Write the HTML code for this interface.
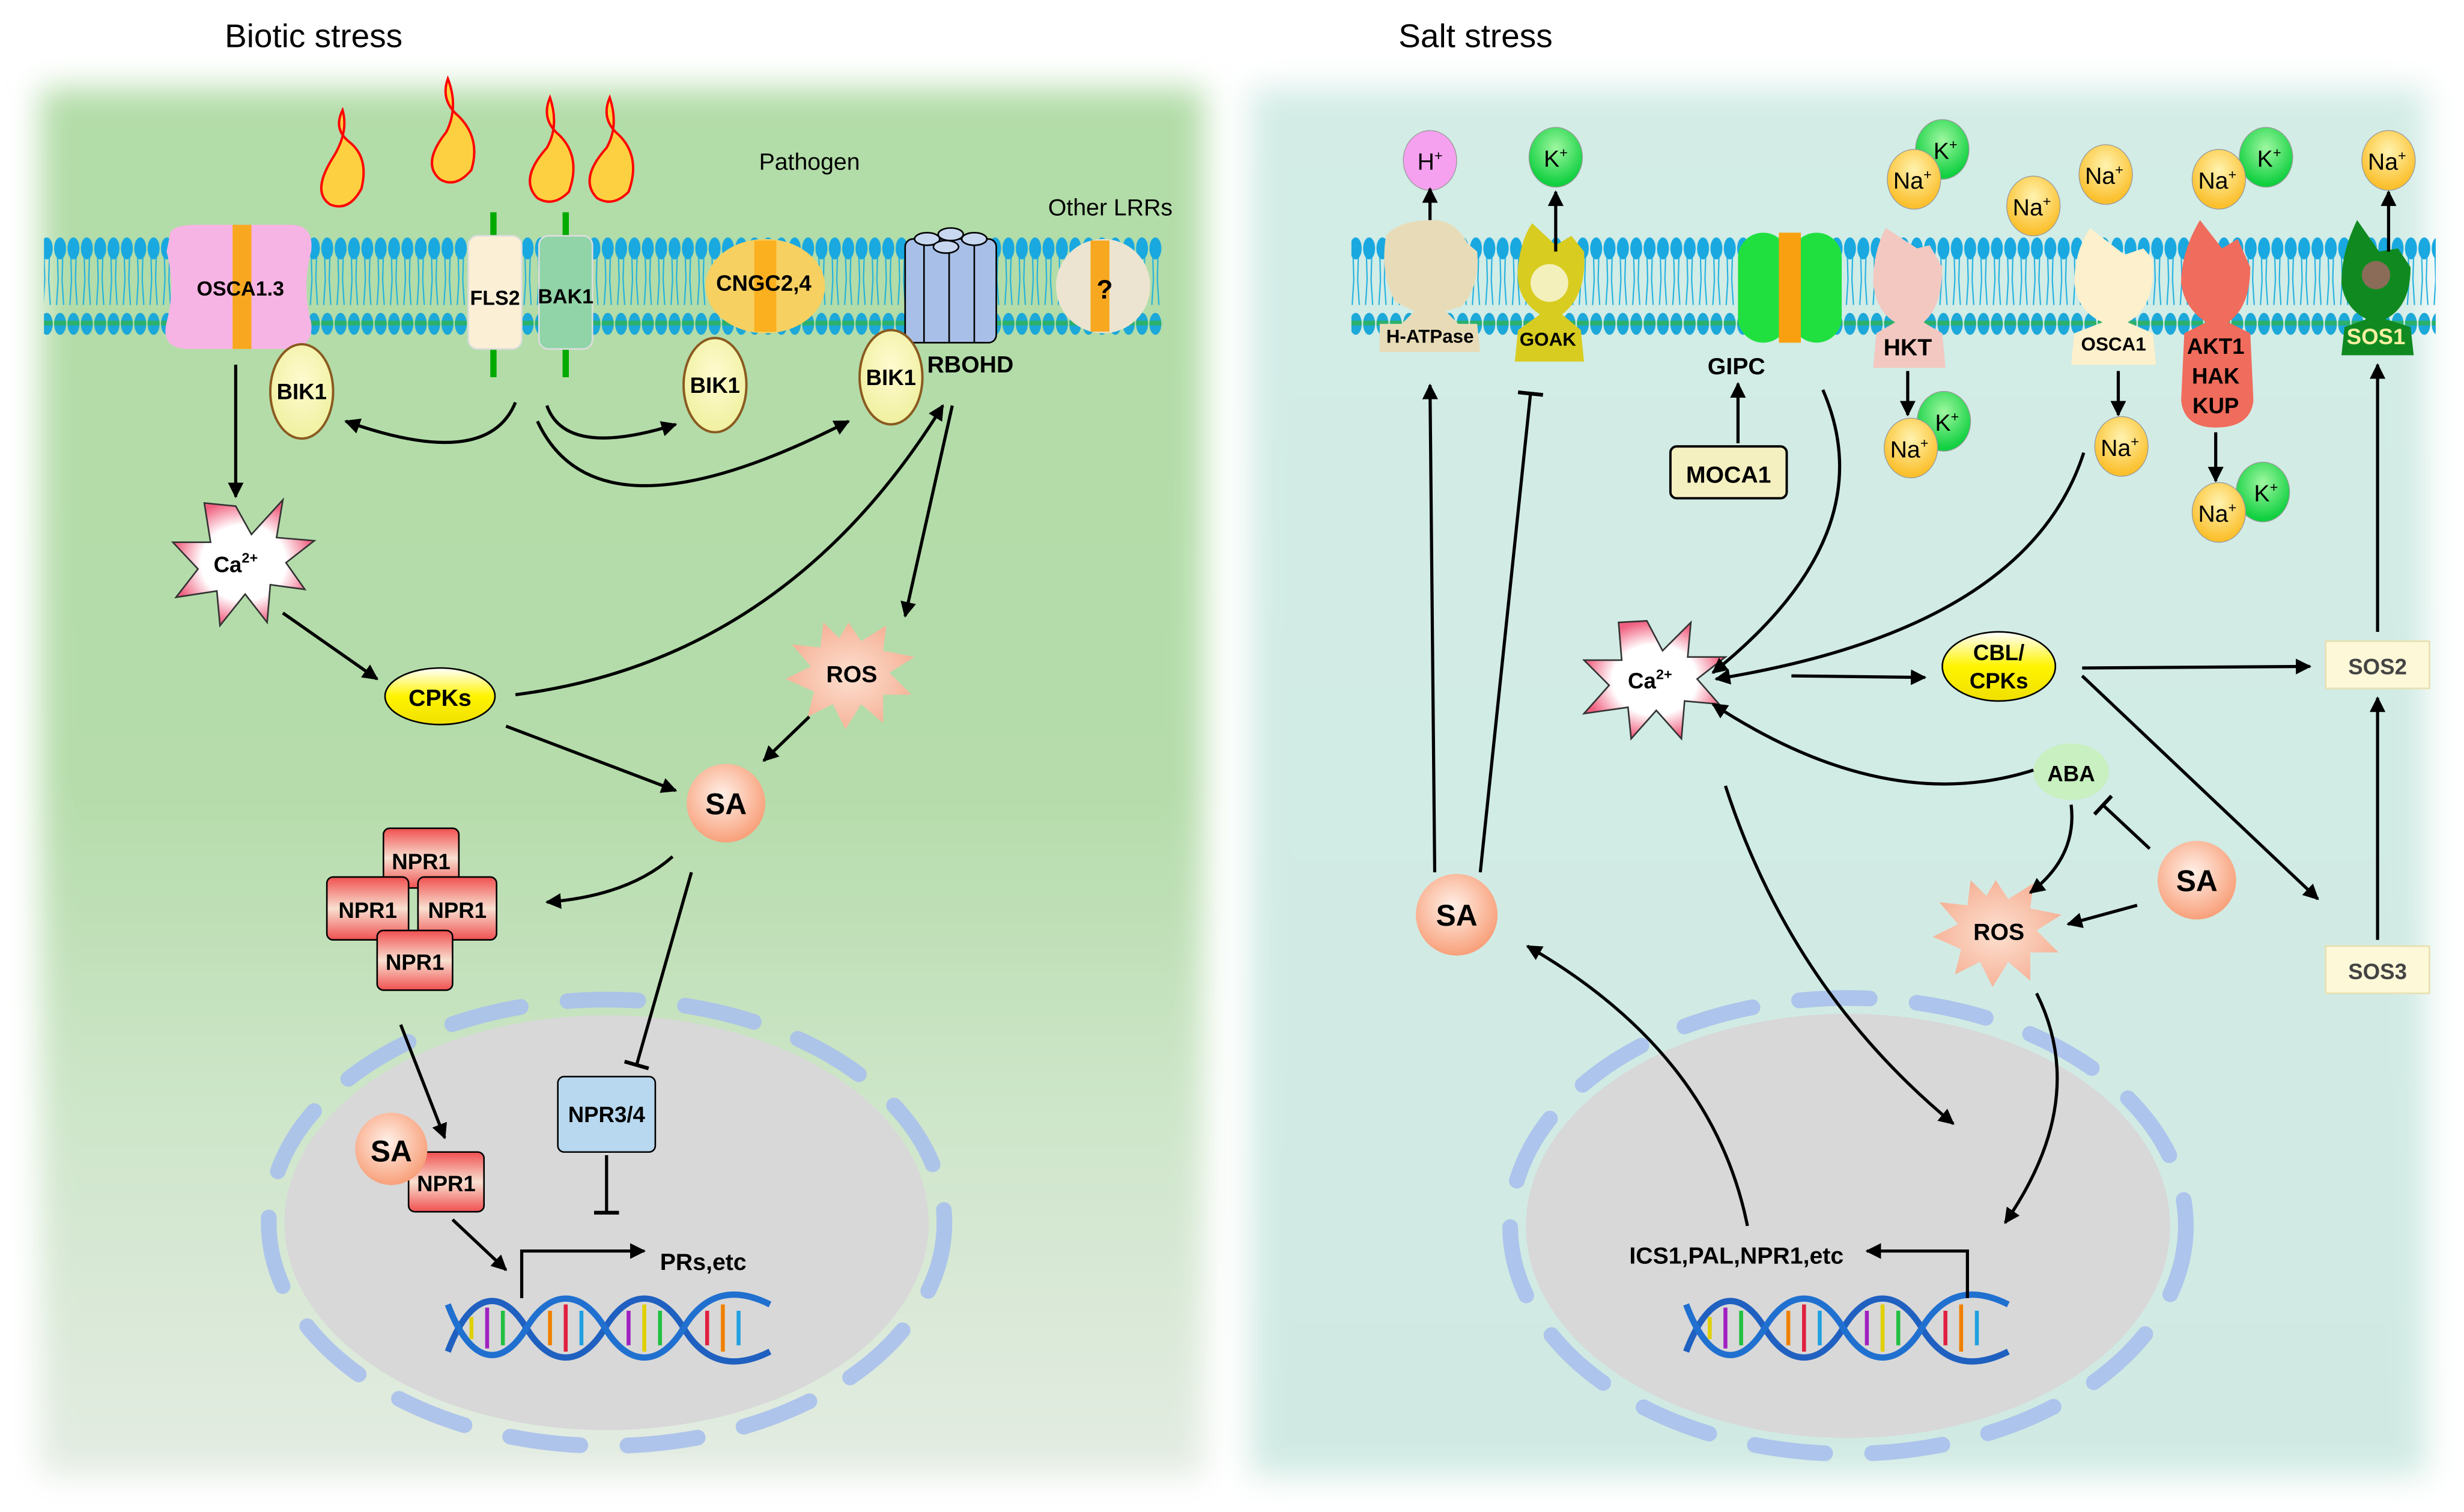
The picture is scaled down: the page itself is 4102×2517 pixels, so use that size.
<!DOCTYPE html>
<html><head><meta charset="utf-8"><style>html,body{margin:0;padding:0;background:#fff}svg{display:block}text{font-family:"Liberation Sans",Arial,sans-serif}</style></head>
<body>
<svg width="4102" height="2517" viewBox="0 0 1568 962" xmlns="http://www.w3.org/2000/svg">
<defs>
<filter id="blur" x="-5%" y="-5%" width="110%" height="110%"><feGaussianBlur stdDeviation="10"/></filter>
<linearGradient id="lg" x1="0" y1="0" x2="0" y2="1"><stop offset="0" stop-color="#b2dca8"/><stop offset="0.5" stop-color="#b5dcaa"/><stop offset="0.75" stop-color="#cfe6cb"/><stop offset="1" stop-color="#e4ece3"/></linearGradient>
<linearGradient id="rg" x1="0" y1="0" x2="0" y2="1"><stop offset="0" stop-color="#d3ece6"/><stop offset="1" stop-color="#d0eae3"/></linearGradient>
<pattern id="lip" x="0" y="150" width="8.5" height="64" patternUnits="userSpaceOnUse">
<path d="M2.5 10 L3 28 L2 44 M6 10 L5.5 28 L6.5 44" stroke="#1fb0e0" stroke-width="0.8" fill="none"/>
<ellipse cx="4.25" cy="8" rx="3.8" ry="7" fill="#19a8e0"/><ellipse cx="4.25" cy="56" rx="3.8" ry="7" fill="#1ca8d8"/><rect x="0.5" y="54" width="7.5" height="3" fill="#2cb06a"/>
</pattern>
<radialGradient id="ca" cx="0.5" cy="0.5" r="0.5"><stop offset="0" stop-color="#fff"/><stop offset="0.6" stop-color="#fff"/><stop offset="1" stop-color="#f06080"/></radialGradient>
<radialGradient id="ros" cx="0.5" cy="0.5" r="0.5"><stop offset="0" stop-color="#fde0d0"/><stop offset="1" stop-color="#f6b49a"/></radialGradient>
<radialGradient id="sa" cx="0.45" cy="0.4" r="0.6"><stop offset="0" stop-color="#fff0e8"/><stop offset="1" stop-color="#f8a07a"/></radialGradient>
<radialGradient id="na" cx="0.5" cy="0.35" r="0.6"><stop offset="0" stop-color="#fff3b0"/><stop offset="1" stop-color="#fbc02d"/></radialGradient>
<radialGradient id="kk" cx="0.5" cy="0.35" r="0.6"><stop offset="0" stop-color="#9ff7a0"/><stop offset="1" stop-color="#10d040"/></radialGradient>
<radialGradient id="bik" cx="0.5" cy="0.4" r="0.6"><stop offset="0" stop-color="#fffbd0"/><stop offset="1" stop-color="#f0f0a0"/></radialGradient>
<linearGradient id="npr" x1="0" y1="0" x2="0" y2="1"><stop offset="0" stop-color="#f05050"/><stop offset="0.5" stop-color="#f8e0d0"/><stop offset="1" stop-color="#f05050"/></linearGradient>
<linearGradient id="cpk" x1="0" y1="0" x2="0" y2="1"><stop offset="0" stop-color="#fff"/><stop offset="0.5" stop-color="#fff400"/><stop offset="1" stop-color="#f0e000"/></linearGradient>
<marker id="a" viewBox="0 0 10 10" refX="9" refY="5" markerWidth="5" markerHeight="5" orient="auto"><path d="M0 0 L10 5 L0 10 z" fill="#000"/></marker>
<marker id="t" viewBox="0 0 10 20" refX="5" refY="10" markerWidth="4" markerHeight="8" orient="auto"><rect x="3" y="0" width="3" height="20" fill="#000"/></marker>
</defs>

<rect width="1568" height="962" fill="#fff"/>
<rect x="26" y="56" width="740" height="883" fill="url(#lg)" filter="url(#blur)"/>
<rect x="796" y="56" width="748" height="883" fill="url(#rg)" filter="url(#blur)"/>

<text x="143" y="30" font-size="21">Biotic stress</text>
<text x="890" y="30" font-size="21">Salt stress</text>

<rect x="28" y="150" width="712" height="64" fill="url(#lip)"/>
<rect x="860" y="150" width="690" height="64" fill="url(#lip)"/>

<ellipse cx="386" cy="778" rx="205" ry="132" fill="#d8d8d8"/>
<ellipse cx="386" cy="778" rx="215" ry="142" fill="none" stroke="#a8c0ec" stroke-width="10" stroke-dasharray="45 30" stroke-linecap="round" opacity="0.9"/>
<ellipse cx="1176" cy="780" rx="205" ry="135" fill="#d8d8d8"/>
<ellipse cx="1176" cy="780" rx="215" ry="145" fill="none" stroke="#a8c0ec" stroke-width="10" stroke-dasharray="45 30" stroke-linecap="round" opacity="0.9"/>

<g fill="#fcd040" stroke="#f00" stroke-width="1.5">
<path d="M218 70 Q212 82 222 90 Q235 100 230 120 Q222 135 210 130 Q198 122 212 100 Q222 84 218 70z"/>
<path d="M285 50 Q280 64 292 74 Q306 88 300 108 Q290 120 280 114 Q268 104 284 84 Q292 68 285 50z"/>
<path d="M350 62 Q344 76 356 86 Q370 100 362 122 Q352 132 342 126 Q330 114 348 94 Q356 80 350 62z"/>
<path d="M388 62 Q382 76 394 86 Q408 100 400 122 Q390 132 380 126 Q368 114 386 94 Q394 80 388 62z"/>
</g>
<text x="483" y="108" font-size="15">Pathogen</text>
<text x="667" y="137" font-size="15">Other LRRs</text>

<path d="M108 150 Q108 143 125 143 L185 143 Q200 143 198 160 Q192 183 198 205 Q200 222 182 222 L120 222 Q102 222 106 205 Q112 183 106 160z" fill="#f6b4e4"/>
<rect x="148" y="143" width="12" height="79" fill="#f8a820"/>
<text x="153" y="188" font-size="13" font-weight="bold" text-anchor="middle">OSCA1.3</text>
<line x1="314" y1="135" x2="314" y2="240" stroke="#0a0" stroke-width="4"/>
<line x1="360" y1="135" x2="360" y2="240" stroke="#0a0" stroke-width="4"/>
<rect x="298" y="150" width="34" height="72" rx="6" fill="#fbefd6" stroke="#ddd"/>
<rect x="343" y="150" width="34" height="72" rx="6" fill="#90d4a8" stroke="#ddd"/>
<text x="315" y="194" font-size="13" font-weight="bold" text-anchor="middle">FLS2</text>
<text x="360" y="193" font-size="13" font-weight="bold" text-anchor="middle">BAK1</text>
<ellipse cx="487" cy="182" rx="38" ry="30" fill="#f6d060"/>
<rect x="480" y="153" width="14" height="58" fill="#fbb020"/>
<text x="486" y="185" font-size="14" font-weight="bold" text-anchor="middle">CNGC2,4</text>
<g fill="#a8c0e8" stroke="#000" stroke-width="1">
<rect x="576" y="152" width="58" height="66" rx="5"/>
<line x1="588" y1="152" x2="588" y2="218"/><line x1="604" y1="152" x2="604" y2="218"/><line x1="620" y1="152" x2="620" y2="218"/>
<ellipse cx="590" cy="152" rx="8" ry="4" fill="#c8d8f0"/><ellipse cx="605" cy="149" rx="8" ry="4" fill="#c8d8f0"/><ellipse cx="620" cy="152" rx="8" ry="4" fill="#c8d8f0"/><ellipse cx="602" cy="157" rx="8" ry="4" fill="#c8d8f0"/>
</g>
<text x="590" y="237" font-size="15" font-weight="bold">RBOHD</text>
<ellipse cx="702" cy="182" rx="30" ry="30" fill="#ece4d0"/>
<rect x="694" y="153" width="12" height="58" fill="#f8a820"/>
<text x="703" y="190" font-size="17" font-weight="bold" text-anchor="middle">?</text>
<g fill="url(#bik)" stroke="#8a5a20" stroke-width="1.5">
<ellipse cx="192" cy="249" rx="20" ry="30"/><ellipse cx="455" cy="245" rx="20" ry="30"/><ellipse cx="567" cy="240" rx="20" ry="30"/>
</g>
<g font-size="14" font-weight="bold" text-anchor="middle"><text x="192" y="254">BIK1</text><text x="455" y="250">BIK1</text><text x="567" y="245">BIK1</text></g>

<path d="M150 322 L160 340 L180 318 L176 342 L200 344 L182 358 L194 375 L172 372 L170 396 L156 378 L140 398 L138 376 L112 380 L126 362 L110 345 L134 345 L130 320z" fill="url(#ca)" stroke="#333" stroke-width="1"/>
<text x="150" y="364" font-size="14" font-weight="bold" text-anchor="middle">Ca<tspan font-size="9" dy="-6">2+</tspan></text>
<ellipse cx="280" cy="443" rx="35" ry="18" fill="url(#cpk)" stroke="#000"/>
<text x="280" y="449" font-size="15" font-weight="bold" text-anchor="middle">CPKs</text>
<path d="M540 396 L548 408 L564 398 L562 414 L582 418 L566 428 L580 442 L562 442 L562 460 L548 448 L538 464 L530 448 L514 456 L518 440 L500 432 L516 424 L504 410 L522 412 L524 396 L534 406z" fill="url(#ros)"/>
<text x="542" y="434" font-size="15" font-weight="bold" text-anchor="middle">ROS</text>
<circle cx="462" cy="511" r="25" fill="url(#sa)"/><text x="462" y="518" font-size="19" font-weight="bold" text-anchor="middle">SA</text>
<g fill="url(#npr)" stroke="#000" stroke-width="1">
<rect x="244" y="527" width="48" height="38" rx="4"/>
<rect x="208" y="558" width="52" height="40" rx="4"/>
<rect x="266" y="558" width="50" height="40" rx="4"/>
<rect x="240" y="592" width="48" height="38" rx="4"/>
<rect x="260" y="733" width="48" height="38" rx="4"/>
</g>
<g font-size="14" font-weight="bold" text-anchor="middle"><text x="268" y="553">NPR1</text><text x="234" y="584">NPR1</text><text x="291" y="584">NPR1</text><text x="264" y="617">NPR1</text><text x="284" y="758">NPR1</text></g>
<circle cx="249" cy="731" r="23" fill="url(#sa)"/><text x="249" y="739" font-size="19" font-weight="bold" text-anchor="middle">SA</text>
<rect x="355" y="685" width="62" height="48" rx="4" fill="#b8d8f0" stroke="#000"/>
<text x="386" y="714" font-size="14" font-weight="bold" text-anchor="middle">NPR3/4</text>
<text x="420" y="808" font-size="15" font-weight="bold">PRs,etc</text>
<polyline points="332,826 332,796 410,796" fill="none" stroke="#000" stroke-width="2" marker-end="url(#a)"/>

<g id="dna" fill="none" stroke-width="4">
<path d="M285 860 C300 820 320 820 335 845 C350 870 370 870 385 845 C400 820 420 820 435 845 C450 870 470 870 490 860" stroke="#1f60c0"/>
<path d="M285 830 C300 870 320 870 335 845 C350 820 370 820 385 845 C400 870 420 870 435 845 C450 820 470 820 490 830" stroke="#2070d0"/>
<g stroke-width="2.5"><line x1="300" y1="838" x2="300" y2="852" stroke="#e0d000"/><line x1="310" y1="832" x2="310" y2="858" stroke="#a020c0"/><line x1="320" y1="834" x2="320" y2="856" stroke="#20c040"/><line x1="350" y1="834" x2="350" y2="856" stroke="#f08000"/><line x1="360" y1="830" x2="360" y2="860" stroke="#e02040"/><line x1="370" y1="834" x2="370" y2="856" stroke="#20a0e0"/><line x1="400" y1="834" x2="400" y2="856" stroke="#a020c0"/><line x1="410" y1="830" x2="410" y2="860" stroke="#e0d000"/><line x1="420" y1="834" x2="420" y2="856" stroke="#20c040"/><line x1="450" y1="834" x2="450" y2="856" stroke="#e02040"/><line x1="460" y1="830" x2="460" y2="860" stroke="#f08000"/><line x1="470" y1="834" x2="470" y2="856" stroke="#20a0e0"/></g>
</g>
<use href="#dna" x="788" y="0"/>

<g fill="none" stroke="#000" stroke-width="2" marker-end="url(#a)">
<line x1="150" y1="232" x2="150" y2="316"/>
<path d="M328 256 Q310 300 220 268"/>
<path d="M348 258 Q360 292 430 270"/>
<path d="M342 268 Q380 350 540 268"/>
<path d="M328 442 Q500 420 600 258"/>
<path d="M606 258 Q590 330 576 392"/>
<line x1="180" y1="390" x2="240" y2="432"/>
<line x1="322" y1="462" x2="430" y2="503"/>
<line x1="515" y1="456" x2="486" y2="484"/>
<path d="M428 545 Q400 570 348 574"/>
<line x1="255" y1="652" x2="283" y2="724"/>
<line x1="288" y1="776" x2="322" y2="808"/>
</g>
<g fill="none" stroke="#000" stroke-width="2" marker-end="url(#t)">
<line x1="440" y1="555" x2="405" y2="678"/>
<line x1="386" y1="735" x2="386" y2="772"/>
</g>

<path d="M882 150 Q890 140 912 140 Q926 140 934 155 L940 160 Q942 182 930 195 L920 198 L928 206 L940 206 L942 224 L878 224 L878 206 L892 206 L900 198 L888 192 Q878 175 882 150z" fill="#e8dcb8"/>
<text x="910" y="218" font-size="12" font-weight="bold" text-anchor="middle">H-ATPase</text>
<path d="M975 142 Q968 152 966 170 Q964 190 980 200 L966 210 L964 230 L1008 230 L1006 210 L994 200 Q1010 188 1008 160 L1000 150 L990 156z" fill="#d8cc20"/>
<circle cx="986" cy="180" r="12" fill="#fff" opacity="0.7"/>
<text x="985" y="220" font-size="12" font-weight="bold" text-anchor="middle">GOAK</text>
<rect x="1106" y="148" width="32" height="70" rx="16" fill="#20e040"/>
<rect x="1140" y="148" width="32" height="70" rx="16" fill="#20e040"/>
<rect x="1132" y="148" width="14" height="70" fill="#f8a010"/>
<path d="M1200 145 Q1192 160 1192 180 Q1194 198 1206 205 L1194 212 L1192 234 L1238 234 L1236 212 L1224 205 Q1236 195 1236 170 L1228 156 L1220 158z" fill="#f2c8c0"/>
<text x="1214" y="226" font-size="15" font-weight="bold" text-anchor="middle">HKT</text>
<path d="M1330 145 Q1320 160 1320 180 Q1322 198 1338 205 L1320 212 L1318 232 L1372 232 L1370 212 L1354 205 Q1372 195 1370 165 L1364 158 L1352 162z" fill="#fdf0cc"/>
<text x="1345" y="223" font-size="12" font-weight="bold" text-anchor="middle">OSCA1</text>
<path d="M1400 140 Q1388 160 1388 180 Q1390 196 1404 205 L1390 212 L1388 255 Q1390 272 1410 272 Q1432 272 1434 255 L1432 212 L1418 205 Q1432 195 1432 170 L1424 152 L1414 158z" fill="#f06c5c"/>
<g font-size="14" font-weight="bold" text-anchor="middle"><text x="1410" y="225">AKT1</text><text x="1410" y="244">HAK</text><text x="1410" y="263">KUP</text></g>
<path d="M1500 140 Q1490 160 1490 180 Q1492 196 1506 203 L1492 208 L1490 226 L1536 226 L1534 208 L1518 203 Q1534 195 1534 170 L1526 158 L1514 160z" fill="#108a20"/>
<circle cx="1512" cy="175" r="9" fill="#c06070" opacity="0.7"/>
<text x="1512" y="219" font-size="14" font-weight="bold" text-anchor="middle" fill="#f8f0a0">SOS1</text>

<g stroke="#999" stroke-width="0.5">
<ellipse cx="910" cy="102" rx="17" ry="19" fill="#f6a0f0"/>
<ellipse cx="990" cy="100" rx="17" ry="19" fill="url(#kk)"/>
<ellipse cx="1236" cy="95" rx="17" ry="19" fill="url(#kk)"/><ellipse cx="1218" cy="114" rx="17" ry="19" fill="url(#na)"/>
<ellipse cx="1294" cy="131" rx="17" ry="19" fill="url(#na)"/>
<ellipse cx="1340" cy="111" rx="17" ry="19" fill="url(#na)"/>
<ellipse cx="1442" cy="100" rx="17" ry="19" fill="url(#kk)"/><ellipse cx="1412" cy="114" rx="17" ry="19" fill="url(#na)"/>
<ellipse cx="1520" cy="102" rx="17" ry="19" fill="url(#na)"/>
<ellipse cx="1237" cy="268" rx="17" ry="19" fill="url(#kk)"/><ellipse cx="1216" cy="285" rx="17" ry="19" fill="url(#na)"/>
<ellipse cx="1350" cy="284" rx="17" ry="19" fill="url(#na)"/>
<ellipse cx="1440" cy="313" rx="17" ry="19" fill="url(#kk)"/><ellipse cx="1412" cy="326" rx="17" ry="19" fill="url(#na)"/>
</g>
<g font-size="15" text-anchor="middle">
<text x="910" y="108">H<tspan font-size="9" dy="-6">+</tspan></text>
<text x="990" y="106">K<tspan font-size="9" dy="-6">+</tspan></text>
<text x="1238" y="101">K<tspan font-size="9" dy="-6">+</tspan></text><text x="1217" y="120">Na<tspan font-size="9" dy="-6">+</tspan></text>
<text x="1293" y="137">Na<tspan font-size="9" dy="-6">+</tspan></text>
<text x="1339" y="117">Na<tspan font-size="9" dy="-6">+</tspan></text>
<text x="1444" y="106">K<tspan font-size="9" dy="-6">+</tspan></text><text x="1411" y="120">Na<tspan font-size="9" dy="-6">+</tspan></text>
<text x="1519" y="108">Na<tspan font-size="9" dy="-6">+</tspan></text>
<text x="1239" y="274">K<tspan font-size="9" dy="-6">+</tspan></text><text x="1215" y="291">Na<tspan font-size="9" dy="-6">+</tspan></text>
<text x="1349" y="290">Na<tspan font-size="9" dy="-6">+</tspan></text>
<text x="1442" y="319">K<tspan font-size="9" dy="-6">+</tspan></text><text x="1411" y="332">Na<tspan font-size="9" dy="-6">+</tspan></text>
</g>

<text x="1105" y="238" font-size="15" font-weight="bold" text-anchor="middle">GIPC</text>
<rect x="1063" y="284" width="74" height="33" rx="4" fill="#f5f0c0" stroke="#000" stroke-width="1.5"/>
<text x="1100" y="307" font-size="15" font-weight="bold" text-anchor="middle">MOCA1</text>

<path d="M1048 395 L1058 414 L1076 396 L1074 418 L1098 418 L1080 432 L1094 448 L1072 446 L1070 470 L1054 452 L1038 470 L1036 450 L1008 454 L1024 436 L1008 420 L1032 420 L1030 396z" fill="url(#ca)" stroke="#333" stroke-width="1"/>
<text x="1050" y="438" font-size="14" font-weight="bold" text-anchor="middle">Ca<tspan font-size="9" dy="-6">2+</tspan></text>
<ellipse cx="1272" cy="424" rx="36" ry="22" fill="url(#cpk)" stroke="#000"/>
<text x="1272" y="420" font-size="14" font-weight="bold" text-anchor="middle">CBL/</text>
<text x="1272" y="438" font-size="14" font-weight="bold" text-anchor="middle">CPKs</text>
<rect x="1480" y="408" width="66" height="30" fill="#fdf8d8" stroke="#e8e0b0"/>
<text x="1513" y="429" font-size="14" font-weight="bold" text-anchor="middle" fill="#444">SOS2</text>
<rect x="1480" y="602" width="66" height="30" fill="#fdf8d8" stroke="#e8e0b0"/>
<text x="1513" y="623" font-size="14" font-weight="bold" text-anchor="middle" fill="#444">SOS3</text>
<ellipse cx="1318" cy="491" rx="24" ry="18" fill="#c8f0c0"/>
<text x="1318" y="497" font-size="14" font-weight="bold" text-anchor="middle">ABA</text>
<circle cx="1398" cy="560" r="25" fill="url(#sa)"/><text x="1398" y="567" font-size="19" font-weight="bold" text-anchor="middle">SA</text>
<circle cx="927" cy="582" r="26" fill="url(#sa)"/><text x="927" y="589" font-size="19" font-weight="bold" text-anchor="middle">SA</text>
<path d="M1270 560 L1278 572 L1294 562 L1292 578 L1312 582 L1296 592 L1310 606 L1292 606 L1292 624 L1278 612 L1268 628 L1260 612 L1244 620 L1248 604 L1230 596 L1246 588 L1234 574 L1252 576 L1254 560 L1264 570z" fill="url(#ros)"/>
<text x="1272" y="598" font-size="15" font-weight="bold" text-anchor="middle">ROS</text>
<text x="1105" y="804" font-size="15" font-weight="bold" text-anchor="middle">ICS1,PAL,NPR1,etc</text>
<polyline points="1252,826 1252,796 1188,796" fill="none" stroke="#000" stroke-width="2" marker-end="url(#a)"/>

<g fill="none" stroke="#000" stroke-width="2" marker-end="url(#a)">
<line x1="910" y1="140" x2="910" y2="120"/>
<line x1="990" y1="160" x2="990" y2="122"/>
<line x1="1520" y1="160" x2="1520" y2="122"/>
<line x1="1214" y1="236" x2="1214" y2="264"/>
<line x1="1348" y1="236" x2="1348" y2="264"/>
<line x1="1410" y1="275" x2="1410" y2="306"/>
<line x1="1106" y1="282" x2="1106" y2="244"/>
<line x1="1513" y1="402" x2="1513" y2="232"/>
<line x1="1513" y1="598" x2="1513" y2="444"/>
<line x1="913" y1="555" x2="910" y2="245"/>
<path d="M1160 248 Q1200 340 1090 428"/>
<path d="M1326 288 Q1290 400 1092 432"/>
<line x1="1140" y1="430" x2="1225" y2="431"/>
<line x1="1325" y1="425" x2="1470" y2="424"/>
<line x1="1325" y1="430" x2="1475" y2="572"/>
<path d="M1294 490 Q1200 520 1090 448"/>
<path d="M1318 512 Q1322 545 1292 568"/>
<line x1="1360" y1="576" x2="1316" y2="588"/>
<path d="M1098 500 Q1140 630 1243 715"/>
<path d="M1296 632 Q1330 700 1276 778"/>
<path d="M1112 780 Q1090 670 972 602"/>
</g>
<g fill="none" stroke="#000" stroke-width="2" marker-end="url(#t)">
<line x1="942" y1="555" x2="974" y2="250"/>
<line x1="1368" y1="540" x2="1338" y2="512"/>
</g>
</svg>
</body></html>
